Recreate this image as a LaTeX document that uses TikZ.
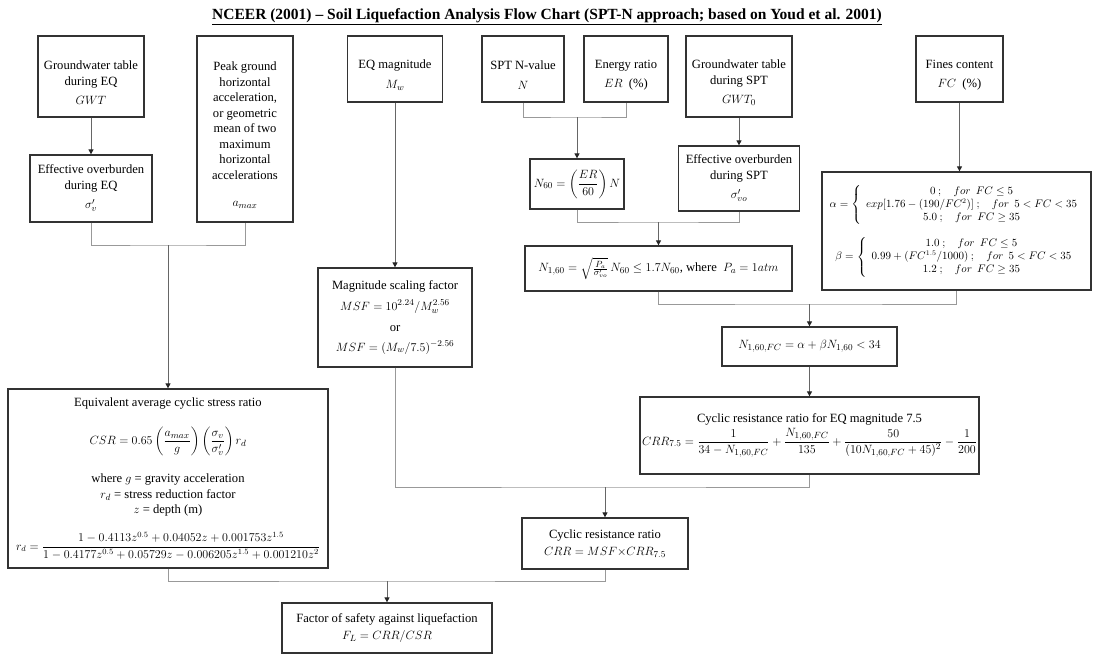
\documentclass[tikz,border=0pt]{standalone}
\usepackage{amsmath}
\usepackage{fontspec}
\setmainfont{Liberation Serif}
\usetikzlibrary{arrows.meta}

\newcommand{\topgap}{\rule{0pt}{21pt}}

\tikzset{
  box/.style={draw=black!80, line width=1.3pt, align=center, inner sep=2pt,
    font=\fontsize{12.6}{15.5}\selectfont},
  link/.style={draw=black!40, line width=1pt},
  flow/.style={draw=black!60, line width=1pt, -{Triangle[length=5pt,width=5pt,color=black!85]}},
}

\begin{document}
\begin{tikzpicture}[x=1pt,y=-1pt]
      \useasboundingbox (0,0) rectangle (1094,656);
      \node[font=\bfseries\fontsize{15.5}{17}\selectfont] (title) at (547,17)
        {\underline{NCEER (2001) -- Soil Liquefaction Analysis Flow Chart (SPT-N approach; based on Youd et al. 2001)}};
      % inputs
      \node[box, minimum width=106, minimum height=81] (gwt) at (91,76.5)
        {\topgap Groundwater table\\during EQ\\[4pt]$GWT$};
      \node[box, minimum width=96, minimum height=186] (pga) at (245,129)
        {\topgap Peak ground\\horizontal\\acceleration,\\or geometric\\mean of two\\maximum\\horizontal\\accelerations\\[12pt]$a_{max}$};
      \node[box, minimum width=95, minimum height=66] (eqm) at (395,69)
        {\topgap EQ magnitude\\[4pt]$M_w$};
      \node[box, minimum width=82, minimum height=66] (spt) at (523,69)
        {\topgap SPT N-value\\[4pt]$N$};
      \node[box, minimum width=84, minimum height=66] (er) at (626,69)
        {\topgap Energy ratio\\[4pt]$ER$~~(\%)};
      \node[box, minimum width=106, minimum height=81] (gwt0) at (739,76.5)
        {\topgap Groundwater table\\during SPT\\[4pt]$GWT_0$};
      \node[box, minimum width=87, minimum height=66] (fc) at (959.5,69)
        {\topgap Fines content\\[4pt]$FC$~~(\%)};
      % intermediate
      \node[box, minimum width=122, minimum height=67] (effeq) at (91,188.5)
        {Effective overburden\\during EQ\\[4pt]$\sigma'_{v}$};
      \node[box, minimum width=94, minimum height=50] (n60) at (577,184)
        {$N_{60} = \left(\dfrac{ER}{60}\right)N$};
      \node[box, minimum width=121, minimum height=65] (effspt) at (739,178.5)
        {Effective overburden\\during SPT\\[4pt]$\sigma'_{vo}$};
      \node[box, minimum width=269, minimum height=118, font=\fontsize{10.5}{13}\selectfont] (ab) at (956.5,231)
        {$\alpha = \left\{\begin{array}{c}
            0\ ;\quad for\ \ FC \le 5\\
            exp[1.76-(190/FC^2)]\ ;\quad for\ \ 5<FC<35\\
            5.0\ ;\quad for\ \ FC \ge 35
          \end{array}\right.$\\[12pt]
         $\beta = \left\{\begin{array}{c}
            1.0\ ;\quad for\ \ FC \le 5\\
            0.99+(FC^{1.5}/1000)\ ;\quad for\ \ 5<FC<35\\
            1.2\ ;\quad for\ \ FC \ge 35
          \end{array}\right.$};
      \node[box, minimum width=267, minimum height=45] (n160) at (658.5,268.5)
        {$N_{1,60} = \sqrt{\frac{P_a}{\sigma'_{vo}}}\,N_{60} \le 1.7N_{60}$, where~ $P_a = 1atm$};
      \node[box, minimum width=154, minimum height=99] (msf) at (395,317.5)
        {Magnitude scaling factor\\[5pt]$MSF = 10^{2.24}/M_w^{2.56}$\\[6pt]or\\[4pt]$MSF = (M_w/7.5)^{-2.56}$};
      \node[box, minimum width=175, minimum height=39] (n160fc) at (809.5,346.5)
        {$N_{1,60,FC} = \alpha + \beta N_{1,60} < 34$};
      \node[box, minimum width=332, minimum height=77] (crr75) at (809.5,435.5)
        {Cyclic resistance ratio for EQ magnitude 7.5\\[2pt]
         $CRR_{7.5} = \dfrac{1}{34-N_{1,60,FC}} + \dfrac{N_{1,60,FC}}{135} + \dfrac{50}{(10N_{1,60,FC}+45)^2} - \dfrac{1}{200}$};
      \node[box, minimum width=320, minimum height=179] (csr) at (168,478.5)
        {Equivalent average cyclic stress ratio\\[17pt]
         $CSR = 0.65\left(\dfrac{a_{max}}{g}\right)\left(\dfrac{\sigma_v}{\sigma'_v}\right)r_d$\\[17pt]
         where $g$ = gravity acceleration\\
         $r_d$ = stress reduction factor\\
         $z$ = depth (m)\\[15pt]
         {\fontsize{11.5}{13}\selectfont $r_d = \dfrac{1-0.4113z^{0.5}+0.04052z+0.001753z^{1.5}}{1-0.4177z^{0.5}+0.05729z-0.006205z^{1.5}+0.001210z^2}$}};
      \node[box, minimum width=166, minimum height=51] (crr) at (605,543.5)
        {Cyclic resistance ratio\\[2pt]$CRR = MSF{\times}CRR_{7.5}$};
      \node[box, minimum width=210, minimum height=50] (fs) at (387,628)
        {Factor of safety against liquefaction\\[2pt]$F_L = CRR/CSR$};
      % joints
      \coordinate (j1) at (168,245);
      \coordinate (j2) at (577,117);
      \coordinate (j3) at (658.5,222);
      \coordinate (j4) at (809.5,304);
      \coordinate (j5) at (605,487);
      \coordinate (j6) at (387,581);
      \begin{scope}[link]
        \draw (effeq.south) |- (j1) -| (pga.south);
        \draw (spt.south) |- (j2) -| (er.south);
        \draw (n60.south) |- (j3) -| (effspt.south);
        \draw (n160.south) |- (j4) -| (ab.south);
        \draw (msf.south) |- (j5) -| (crr75.south);
        \draw (csr.south) |- (j6) -| (crr.south);
      \end{scope}
      \begin{scope}[flow]
        \draw (gwt) to (effeq);
        \draw (eqm) to (msf);
        \draw (gwt0) to (effspt);
        \draw (fc.south) to (fc.south |- ab.north);
        \draw (n160fc) to (crr75);
        \draw (j1) to (csr.north);
        \draw (j2) to (n60.north);
        \draw (j3) to (n160.north);
        \draw (j4) to (n160fc.north);
        \draw (j5) to (crr.north);
        \draw (j6) to (fs.north);
      \end{scope}
    \end{tikzpicture}
\end{document}
